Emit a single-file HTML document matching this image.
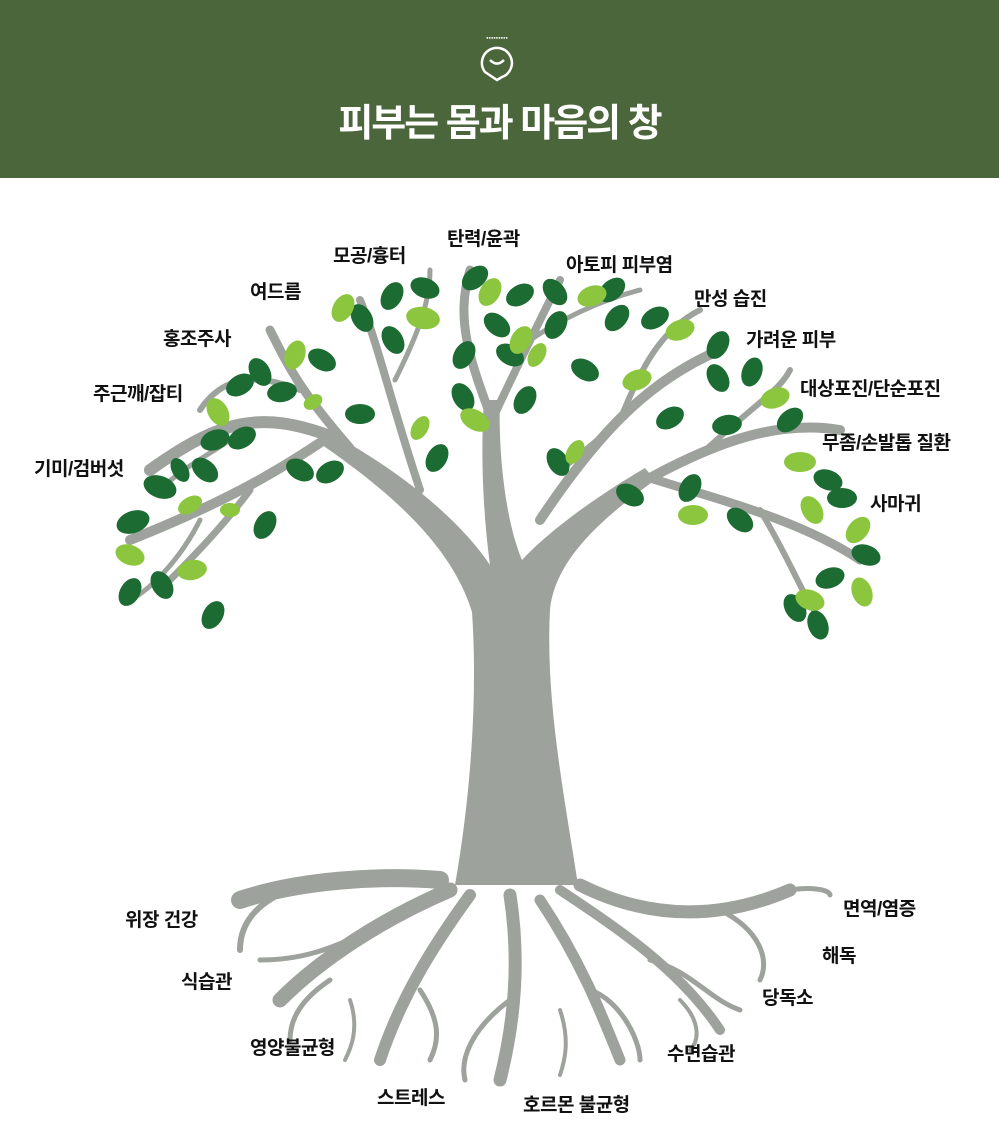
<!DOCTYPE html>
<html><head><meta charset="utf-8"><style>
body{margin:0;width:999px;height:1132px;background:#fff;overflow:hidden;font-family:"Liberation Sans","Noto Sans CJK KR",sans-serif}
.hd{position:absolute;left:0;top:0;width:999px;height:178px;background:#4a663a}
.t{position:absolute;left:0;top:92px;width:999px;text-align:center;color:#fff;font-size:38px;font-weight:700;letter-spacing:-2px}
.l{position:absolute;font-size:19px;font-weight:600;color:#111;white-space:nowrap;letter-spacing:-0.5px}
ellipse{stroke-width:0}
</style></head><body>
<div class="hd"></div>
<svg style="position:absolute;left:0;top:0" width="999" height="178">
<text x="497" y="39" fill="#fff" font-size="4" text-anchor="middle" font-family="Liberation Sans">●●●●●●●●●</text>
<path d="M485 72 A15 15 0 1 1 502 77 L497 80 Z" fill="none" stroke="#fff" stroke-width="2.5"/>
<path d="M490 60 Q497 67 504 60" fill="none" stroke="#fff" stroke-width="2.5"/>
</svg>
<div class="t">피부는 몸과 마음의 창</div>
<svg style="position:absolute;left:0;top:0" width="999" height="1132">
<g fill="#9ea29c">
<path d="M455 885 L578 885 C565 800 545 700 550 610 C555 560 600 520 655 480 L645 468 C590 500 545 535 522 560 C505 520 498 450 500 400 L484 400 C480 460 484 520 490 565 C460 520 400 470 325 430 L318 442 C380 485 450 540 472 612 C478 700 470 800 455 885 Z"/>
</g>
<g stroke="#9ea29c" fill="none" stroke-linecap="round">
<path d="M330 436 C260 410 220 420 150 470" stroke-width="12"/>
<path d="M330 436 C280 470 230 500 130 540" stroke-width="10"/>
<path d="M250 490 C220 530 190 560 160 590" stroke-width="7"/>
<path d="M200 520 C180 560 150 590 130 600" stroke-width="5"/>
<path d="M350 448 C300 390 290 370 270 330" stroke-width="9"/>
<path d="M300 390 C250 370 220 380 200 410" stroke-width="6"/>
<path d="M420 490 C390 400 380 350 360 300" stroke-width="8"/>
<path d="M395 380 C420 330 430 300 430 270" stroke-width="5"/>
<path d="M492 420 C470 360 455 320 470 270" stroke-width="9"/>
<path d="M492 420 C520 360 540 320 560 280" stroke-width="8"/>
<path d="M530 340 C560 320 600 300 640 290" stroke-width="5"/>
<path d="M540 520 C600 430 650 380 720 350" stroke-width="10"/>
<path d="M620 420 C640 370 660 330 700 310" stroke-width="6"/>
<path d="M650 478 C720 440 780 420 840 430" stroke-width="10"/>
<path d="M700 455 C760 400 780 390 790 370" stroke-width="6"/>
<path d="M650 478 C720 500 800 520 860 560" stroke-width="9"/>
<path d="M760 510 C790 560 800 590 820 620" stroke-width="6"/>
<path d="M560 470 C600 440 620 420 640 400" stroke-width="6"/>
<path d="M230 440 C200 460 180 470 160 490" stroke-width="5"/>
<path d="M440 880 C380 875 300 880 240 900" stroke-width="18"/>
<path d="M300 885 C260 900 240 920 240 950" stroke-width="6"/>
<path d="M450 890 C380 920 320 960 280 1000" stroke-width="15"/>
<path d="M370 930 C330 950 300 960 260 960" stroke-width="5"/>
<path d="M330 980 C300 1000 290 1020 290 1040" stroke-width="5"/>
<path d="M470 895 C430 950 400 1000 380 1060" stroke-width="12"/>
<path d="M420 990 C440 1020 440 1040 430 1060" stroke-width="5"/>
<path d="M510 895 C520 960 515 1020 500 1080" stroke-width="13"/>
<path d="M510 1000 C470 1030 460 1060 465 1080" stroke-width="5"/>
<path d="M540 900 C580 960 600 1010 620 1060" stroke-width="11"/>
<path d="M590 990 C620 1000 640 1040 640 1060" stroke-width="5"/>
<path d="M560 890 C620 930 680 970 720 1030" stroke-width="10"/>
<path d="M650 960 C690 970 710 1000 740 1010" stroke-width="5"/>
<path d="M580 885 C650 920 720 920 790 890" stroke-width="13"/>
<path d="M720 910 C760 930 770 960 760 980" stroke-width="5"/>
<path d="M780 892 C810 885 830 890 830 895" stroke-width="5"/>
<path d="M680 1000 C700 1020 700 1040 690 1050" stroke-width="4"/>
<path d="M560 1010 C570 1040 565 1060 560 1075" stroke-width="4"/>
<path d="M350 1000 C360 1030 350 1050 345 1060" stroke-width="4"/>
</g>
<g fill="#1c6b33">
<ellipse cx="475" cy="278" rx="15" ry="10" transform="rotate(-40 475 278)"/>
<ellipse cx="520" cy="295" rx="15" ry="10" transform="rotate(-30 520 295)"/>
<ellipse cx="555" cy="292" rx="15" ry="10" transform="rotate(50 555 292)"/>
<ellipse cx="612" cy="290" rx="15" ry="10" transform="rotate(-40 612 290)"/>
<ellipse cx="497" cy="325" rx="15" ry="10" transform="rotate(40 497 325)"/>
<ellipse cx="464" cy="355" rx="15" ry="10" transform="rotate(-60 464 355)"/>
<ellipse cx="510" cy="355" rx="15" ry="10" transform="rotate(30 510 355)"/>
<ellipse cx="617" cy="318" rx="15" ry="10" transform="rotate(-50 617 318)"/>
<ellipse cx="655" cy="318" rx="15" ry="10" transform="rotate(-30 655 318)"/>
<ellipse cx="585" cy="370" rx="15" ry="10" transform="rotate(30 585 370)"/>
<ellipse cx="718" cy="345" rx="15" ry="10" transform="rotate(-60 718 345)"/>
<ellipse cx="752" cy="372" rx="15" ry="10" transform="rotate(-70 752 372)"/>
<ellipse cx="718" cy="378" rx="15" ry="10" transform="rotate(60 718 378)"/>
<ellipse cx="670" cy="418" rx="15" ry="10" transform="rotate(-30 670 418)"/>
<ellipse cx="727" cy="425" rx="15" ry="10" transform="rotate(-10 727 425)"/>
<ellipse cx="790" cy="420" rx="15" ry="10" transform="rotate(-40 790 420)"/>
<ellipse cx="828" cy="480" rx="15" ry="10" transform="rotate(20 828 480)"/>
<ellipse cx="842" cy="498" rx="15" ry="10" transform="rotate(0 842 498)"/>
<ellipse cx="866" cy="555" rx="15" ry="10" transform="rotate(20 866 555)"/>
<ellipse cx="830" cy="578" rx="15" ry="10" transform="rotate(-20 830 578)"/>
<ellipse cx="795" cy="608" rx="15" ry="10" transform="rotate(60 795 608)"/>
<ellipse cx="818" cy="625" rx="15" ry="10" transform="rotate(70 818 625)"/>
<ellipse cx="630" cy="495" rx="15" ry="10" transform="rotate(30 630 495)"/>
<ellipse cx="690" cy="488" rx="15" ry="10" transform="rotate(-60 690 488)"/>
<ellipse cx="740" cy="520" rx="15" ry="10" transform="rotate(40 740 520)"/>
<ellipse cx="558" cy="462" rx="15" ry="10" transform="rotate(60 558 462)"/>
<ellipse cx="525" cy="400" rx="15" ry="10" transform="rotate(-60 525 400)"/>
<ellipse cx="437" cy="458" rx="15" ry="10" transform="rotate(-60 437 458)"/>
<ellipse cx="392" cy="296" rx="15" ry="10" transform="rotate(-60 392 296)"/>
<ellipse cx="425" cy="288" rx="15" ry="10" transform="rotate(20 425 288)"/>
<ellipse cx="362" cy="318" rx="15" ry="10" transform="rotate(60 362 318)"/>
<ellipse cx="322" cy="360" rx="15" ry="10" transform="rotate(30 322 360)"/>
<ellipse cx="260" cy="372" rx="15" ry="10" transform="rotate(60 260 372)"/>
<ellipse cx="282" cy="392" rx="15" ry="10" transform="rotate(-10 282 392)"/>
<ellipse cx="240" cy="385" rx="15" ry="10" transform="rotate(-30 240 385)"/>
<ellipse cx="215" cy="440" rx="15" ry="10" transform="rotate(-20 215 440)"/>
<ellipse cx="205" cy="470" rx="15" ry="10" transform="rotate(40 205 470)"/>
<ellipse cx="160" cy="487" rx="17" ry="11" transform="rotate(20 160 487)"/>
<ellipse cx="133" cy="522" rx="17" ry="11" transform="rotate(-20 133 522)"/>
<ellipse cx="130" cy="592" rx="15" ry="10" transform="rotate(-60 130 592)"/>
<ellipse cx="162" cy="585" rx="15" ry="10" transform="rotate(60 162 585)"/>
<ellipse cx="213" cy="615" rx="15" ry="10" transform="rotate(-60 213 615)"/>
<ellipse cx="265" cy="525" rx="15" ry="10" transform="rotate(-60 265 525)"/>
<ellipse cx="300" cy="470" rx="15" ry="10" transform="rotate(30 300 470)"/>
<ellipse cx="330" cy="472" rx="15" ry="10" transform="rotate(-30 330 472)"/>
<ellipse cx="360" cy="414" rx="15" ry="10" transform="rotate(0 360 414)"/>
<ellipse cx="393" cy="340" rx="15" ry="10" transform="rotate(60 393 340)"/>
<ellipse cx="242" cy="438" rx="15" ry="10" transform="rotate(-30 242 438)"/>
<ellipse cx="463" cy="397" rx="15" ry="10" transform="rotate(60 463 397)"/>
<ellipse cx="556" cy="325" rx="15" ry="10" transform="rotate(-60 556 325)"/>
<ellipse cx="180" cy="470" rx="13" ry="8" transform="rotate(60 180 470)"/>
</g>
<g fill="#8cc63f">
<ellipse cx="490" cy="292" rx="15" ry="10" transform="rotate(-60 490 292)"/>
<ellipse cx="592" cy="296" rx="15" ry="10" transform="rotate(-20 592 296)"/>
<ellipse cx="423" cy="318" rx="17" ry="11" transform="rotate(10 423 318)"/>
<ellipse cx="343" cy="308" rx="15" ry="10" transform="rotate(-60 343 308)"/>
<ellipse cx="295" cy="355" rx="15" ry="10" transform="rotate(-70 295 355)"/>
<ellipse cx="521" cy="340" rx="15" ry="10" transform="rotate(-60 521 340)"/>
<ellipse cx="680" cy="330" rx="15" ry="10" transform="rotate(-20 680 330)"/>
<ellipse cx="637" cy="380" rx="15" ry="10" transform="rotate(-20 637 380)"/>
<ellipse cx="775" cy="398" rx="15" ry="10" transform="rotate(-20 775 398)"/>
<ellipse cx="800" cy="462" rx="16" ry="10" transform="rotate(0 800 462)"/>
<ellipse cx="812" cy="510" rx="15" ry="10" transform="rotate(60 812 510)"/>
<ellipse cx="858" cy="530" rx="15" ry="10" transform="rotate(-50 858 530)"/>
<ellipse cx="862" cy="592" rx="15" ry="10" transform="rotate(70 862 592)"/>
<ellipse cx="810" cy="600" rx="15" ry="10" transform="rotate(20 810 600)"/>
<ellipse cx="693" cy="515" rx="15" ry="10" transform="rotate(0 693 515)"/>
<ellipse cx="575" cy="452" rx="13" ry="8" transform="rotate(-60 575 452)"/>
<ellipse cx="475" cy="420" rx="16" ry="10" transform="rotate(30 475 420)"/>
<ellipse cx="420" cy="428" rx="13" ry="8" transform="rotate(-60 420 428)"/>
<ellipse cx="218" cy="412" rx="15" ry="10" transform="rotate(60 218 412)"/>
<ellipse cx="190" cy="505" rx="13" ry="8" transform="rotate(-30 190 505)"/>
<ellipse cx="130" cy="555" rx="15" ry="10" transform="rotate(20 130 555)"/>
<ellipse cx="192" cy="570" rx="15" ry="10" transform="rotate(-10 192 570)"/>
<ellipse cx="313" cy="402" rx="10" ry="7" transform="rotate(-30 313 402)"/>
<ellipse cx="537" cy="355" rx="13" ry="8" transform="rotate(-60 537 355)"/>
<ellipse cx="230" cy="510" rx="10" ry="7" transform="rotate(0 230 510)"/>
</g>
</svg>
<div class="l" style="left:333px;top:241px">모공/흉터</div>
<div class="l" style="left:447px;top:224px">탄력/윤곽</div>
<div class="l" style="left:566px;top:250px">아토피 피부염</div>
<div class="l" style="left:250px;top:277px">여드름</div>
<div class="l" style="left:694px;top:284px">만성 습진</div>
<div class="l" style="left:163px;top:324px">홍조주사</div>
<div class="l" style="left:746px;top:325px">가려운 피부</div>
<div class="l" style="left:93px;top:379px">주근깨/잡티</div>
<div class="l" style="left:800px;top:374px">대상포진/단순포진</div>
<div class="l" style="left:822px;top:428px">무좀/손발톱 질환</div>
<div class="l" style="left:34px;top:454px">기미/검버섯</div>
<div class="l" style="left:870px;top:489px">사마귀</div>
<div class="l" style="left:125px;top:905px">위장 건강</div>
<div class="l" style="left:843px;top:894px">면역/염증</div>
<div class="l" style="left:822px;top:941px">해독</div>
<div class="l" style="left:181px;top:967px">식습관</div>
<div class="l" style="left:762px;top:983px">당독소</div>
<div class="l" style="left:250px;top:1033px">영양불균형</div>
<div class="l" style="left:667px;top:1039px">수면습관</div>
<div class="l" style="left:377px;top:1083px">스트레스</div>
<div class="l" style="left:523px;top:1090px">호르몬 불균형</div>
</body></html>
